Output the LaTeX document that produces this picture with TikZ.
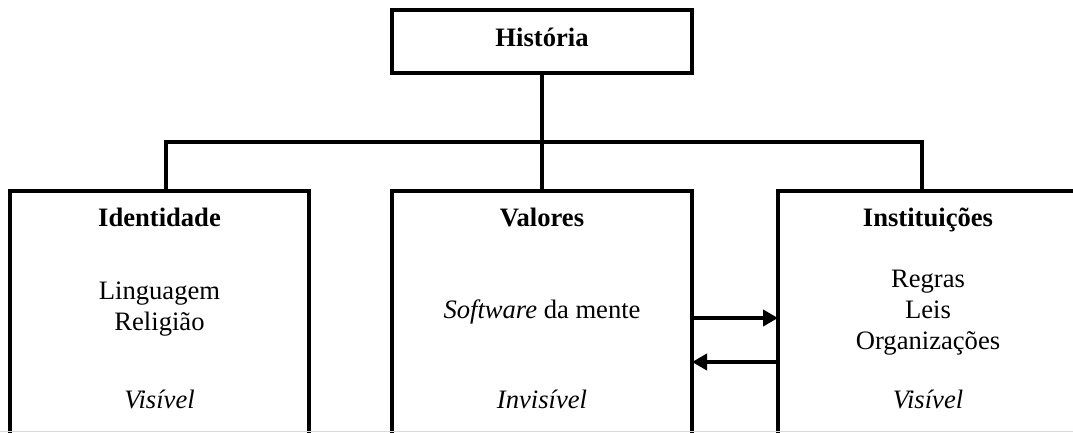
\documentclass[tikz,border=0pt]{standalone}
\usepackage{fontspec}
\setmainfont{Liberation Serif}
\usetikzlibrary{arrows.meta}
\tikzset{
  boxnode/.style={draw=black, line width=4pt, rectangle, inner sep=0pt, outer sep=0pt},
  txt/.style={anchor=base, inner sep=0pt, font=\fontsize{26.6}{31}\selectfont},
  ttl/.style={txt, font=\fontsize{26.6}{31}\selectfont\bfseries},
  link/.style={line width=4pt, line cap=rect},
  arr/.style={line width=4pt, -{Triangle[length=15pt,width=16pt]}},
}
\begin{document}
\begin{tikzpicture}[x=1pt,y=-1pt]
\useasboundingbox (0,0) rectangle (1073,432);
\clip (0,0) rectangle (1073,432);
% boxes
\node[boxnode, minimum width=300pt, minimum height=63pt] (hist) at (542,41) {};
\node[boxnode, minimum width=299pt, minimum height=300pt, anchor=north] (left) at (159.5,191) {};
\node[boxnode, minimum width=300pt, minimum height=300pt, anchor=north] (mid) at (542,191) {};
\node[boxnode, minimum width=300pt, minimum height=300pt, anchor=north] (right) at (928,191) {};
% texts
\node[ttl] (thist) at (542,46) {História};
\node[ttl] (tleft) at (159.5,226) {Identidade};
\node[ttl] (tmid) at (542,226) {Valores};
\node[ttl] (tright) at (928,226) {Instituições};
\node[txt] (l1) at (159.5,299) {Linguagem};
\node[txt] (l2) at (159.5,330) {Religião};
\node[txt] (lv) at (159.5,408) {\itshape Visível};
\node[txt] (m1) at (542,318) {\textit{Software} da mente};
\node[txt] (mv) at (542,408) {\itshape Invisível};
\node[txt] (r1) at (928,287) {Regras};
\node[txt] (r2) at (928,318) {Leis};
\node[txt] (r3) at (928,349) {Organizações};
\node[txt] (rv) at (928,408) {\itshape Visível};
% tree connectors
\coordinate (jl) at (166,142);
\coordinate (jr) at (922,142);
\draw[link] (hist.south) -- (mid.north);
\draw[link] (jl |- left.north) -- (jl) -- (jr) -- (jr |- right.north);
% arrows
\draw[arr] (mid.east |- 0,318) -- (right.west |- 0,318);
\draw[arr] (right.west |- 0,362) -- (mid.east |- 0,362);
% page edge line
\draw[black!15, line width=1.2pt] (0,431.4) -- (1073,431.4);
\end{tikzpicture}
\end{document}
